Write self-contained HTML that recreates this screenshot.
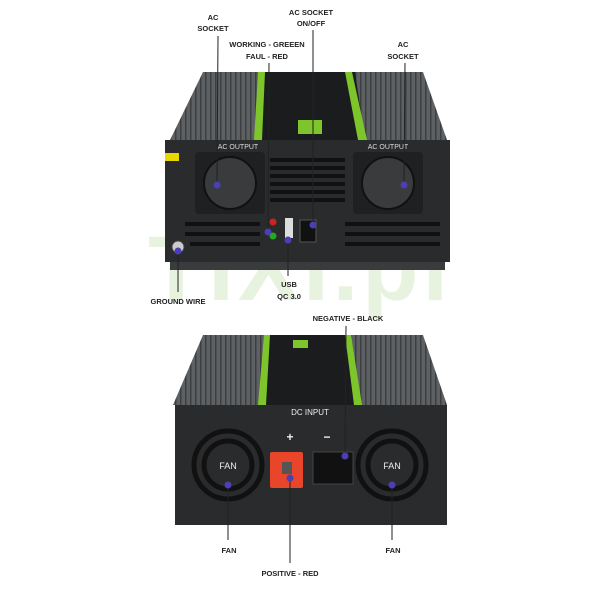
<!DOCTYPE html>
<html><head><meta charset="utf-8"><style>
body{margin:0;background:#fff}
svg{display:block}
.l{font-family:"Liberation Sans",sans-serif;font-weight:bold;font-size:7.5px;fill:#222;text-anchor:middle}
</style></head><body>
<svg width="600" height="600" viewBox="0 0 600 600" xmlns="http://www.w3.org/2000/svg">
<defs>
<pattern id="fin" width="5" height="6" patternUnits="userSpaceOnUse"><rect width="5" height="6" fill="#5e6164"/><rect width="1.5" height="6" fill="#3c3e40"/></pattern>
</defs>
<text x="300" y="300" font-family="Liberation Sans,sans-serif" font-weight="bold" font-size="92" fill="#e8f3df" text-anchor="middle" letter-spacing="4">TIXI.pl</text>

<polygon points="203,72 423,72 447,140 170,140" fill="url(#fin)"/>
<polygon points="258,72 355,72 365,140 255,140" fill="#1b1c1d"/>
<polygon points="258,72 265,72 262,140 254,140" fill="#7dc52a"/>
<polygon points="345,72 352,72 367,140 358,140" fill="#7dc52a"/>
<rect x="298" y="120" width="24" height="14" fill="#7dc52a"/>
<rect x="165" y="140" width="285" height="122" fill="#2a2b2d"/>
<rect x="170" y="262" width="275" height="8" fill="#3a3b3d"/>
<rect x="165" y="153" width="14" height="8" fill="#e8d800"/>
<text x="238" y="149" font-family="Liberation Sans,sans-serif" font-size="7" fill="#ddd" text-anchor="middle">AC OUTPUT</text>
<text x="388" y="149" font-family="Liberation Sans,sans-serif" font-size="7" fill="#ddd" text-anchor="middle">AC OUTPUT</text>
<rect x="195" y="152" width="70" height="62" rx="4" fill="#1f2021"/>
<circle cx="230" cy="183" r="26" fill="#3a3b3d" stroke="#111" stroke-width="2"/>
<rect x="353" y="152" width="70" height="62" rx="4" fill="#1f2021"/>
<circle cx="388" cy="183" r="26" fill="#3a3b3d" stroke="#111" stroke-width="2"/>
<g fill="#111"><rect x="270" y="158" width="75" height="4"/><rect x="270" y="166" width="75" height="4"/><rect x="270" y="174" width="75" height="4"/><rect x="270" y="182" width="75" height="4"/><rect x="270" y="190" width="75" height="4"/><rect x="270" y="198" width="75" height="4"/>
<rect x="185" y="222" width="75" height="4"/><rect x="185" y="232" width="75" height="4"/><rect x="190" y="242" width="70" height="4"/><rect x="345" y="222" width="95" height="4"/><rect x="345" y="232" width="95" height="4"/><rect x="345" y="242" width="95" height="4"/></g>
<circle cx="273" cy="222" r="3.5" fill="#c22"/><circle cx="273" cy="236" r="3.5" fill="#2a2"/>
<rect x="285" y="218" width="8" height="20" fill="#ddd"/>
<rect x="300" y="220" width="16" height="22" fill="#111" stroke="#555"/>
<circle cx="178" cy="247" r="6" fill="#ccc" stroke="#444"/>

<polygon points="203,335 423,335 447,405 173,405" fill="url(#fin)"/>
<polygon points="267,335 347,335 357,405 260,405" fill="#1b1c1d"/>
<polygon points="264,335 270,335 266,405 258,405" fill="#7dc52a"/>
<polygon points="345,335 351,335 362,405 354,405" fill="#7dc52a"/>
<rect x="293" y="340" width="15" height="8" fill="#7dc52a"/>
<rect x="175" y="405" width="272" height="120" fill="#2a2b2d"/>
<text x="310" y="415" font-family="Liberation Sans,sans-serif" font-size="8" fill="#eee" text-anchor="middle">DC INPUT</text>
<text x="290" y="441" font-family="Liberation Sans,sans-serif" font-weight="bold" font-size="12" fill="#eee" text-anchor="middle">+</text>
<text x="327" y="441" font-family="Liberation Sans,sans-serif" font-weight="bold" font-size="12" fill="#eee" text-anchor="middle">−</text>
<g fill="none" stroke="#111" stroke-width="5"><circle cx="228" cy="465" r="34"/><circle cx="228" cy="465" r="24"/><circle cx="392" cy="465" r="34"/><circle cx="392" cy="465" r="24"/></g>
<circle cx="228" cy="465" r="17" fill="#2a2b2d"/><circle cx="392" cy="465" r="17" fill="#2a2b2d"/>
<text x="228" y="469" font-family="Liberation Sans,sans-serif" font-size="9" fill="#eee" text-anchor="middle">FAN</text>
<text x="392" y="469" font-family="Liberation Sans,sans-serif" font-size="9" fill="#eee" text-anchor="middle">FAN</text>
<rect x="270" y="452" width="33" height="36" rx="2" fill="#e8452a"/>
<rect x="282" y="462" width="10" height="12" fill="#555"/>
<rect x="313" y="452" width="40" height="32" fill="#111" stroke="#444"/>

<g stroke="#222" stroke-width="1">
<line x1="218" y1="36" x2="217" y2="185"/><line x1="313" y1="30" x2="313" y2="225"/>
<line x1="269" y1="63" x2="268" y2="232"/><line x1="405" y1="63" x2="404" y2="185"/>
<line x1="288" y1="240" x2="288" y2="276"/><line x1="178" y1="250" x2="178" y2="292"/>
<line x1="346" y1="326" x2="345" y2="456"/><line x1="228" y1="485" x2="228" y2="540"/>
<line x1="392" y1="485" x2="392" y2="540"/><line x1="290" y1="478" x2="290" y2="563"/>
</g>
<g fill="#4a3fb5"><circle cx="217" cy="185" r="3.5"/><circle cx="313" cy="225" r="3.5"/><circle cx="268" cy="232" r="3.5"/><circle cx="404" cy="185" r="3.5"/><circle cx="288" cy="240" r="3.5"/><circle cx="178" cy="251" r="3.5"/><circle cx="345" cy="456" r="3.5"/><circle cx="228" cy="485" r="3.5"/><circle cx="392" cy="485" r="3.5"/><circle cx="290" cy="478" r="3.5"/></g>
<text class="l" x="213" y="20">AC</text><text class="l" x="213" y="31">SOCKET</text>
<text class="l" x="311" y="15">AC SOCKET</text><text class="l" x="311" y="26">ON/OFF</text>
<text class="l" x="267" y="47">WORKING - GREEEN</text><text class="l" x="267" y="59">FAUL - RED</text>
<text class="l" x="403" y="47">AC</text><text class="l" x="403" y="59">SOCKET</text>
<text class="l" x="289" y="287">USB</text><text class="l" x="289" y="299">QC 3.0</text>
<text class="l" x="178" y="304">GROUND WIRE</text>
<text class="l" x="348" y="321">NEGATIVE - BLACK</text>
<text class="l" x="229" y="553">FAN</text><text class="l" x="393" y="553">FAN</text>
<text class="l" x="290" y="576">POSITIVE - RED</text>
</svg>
</body></html>
